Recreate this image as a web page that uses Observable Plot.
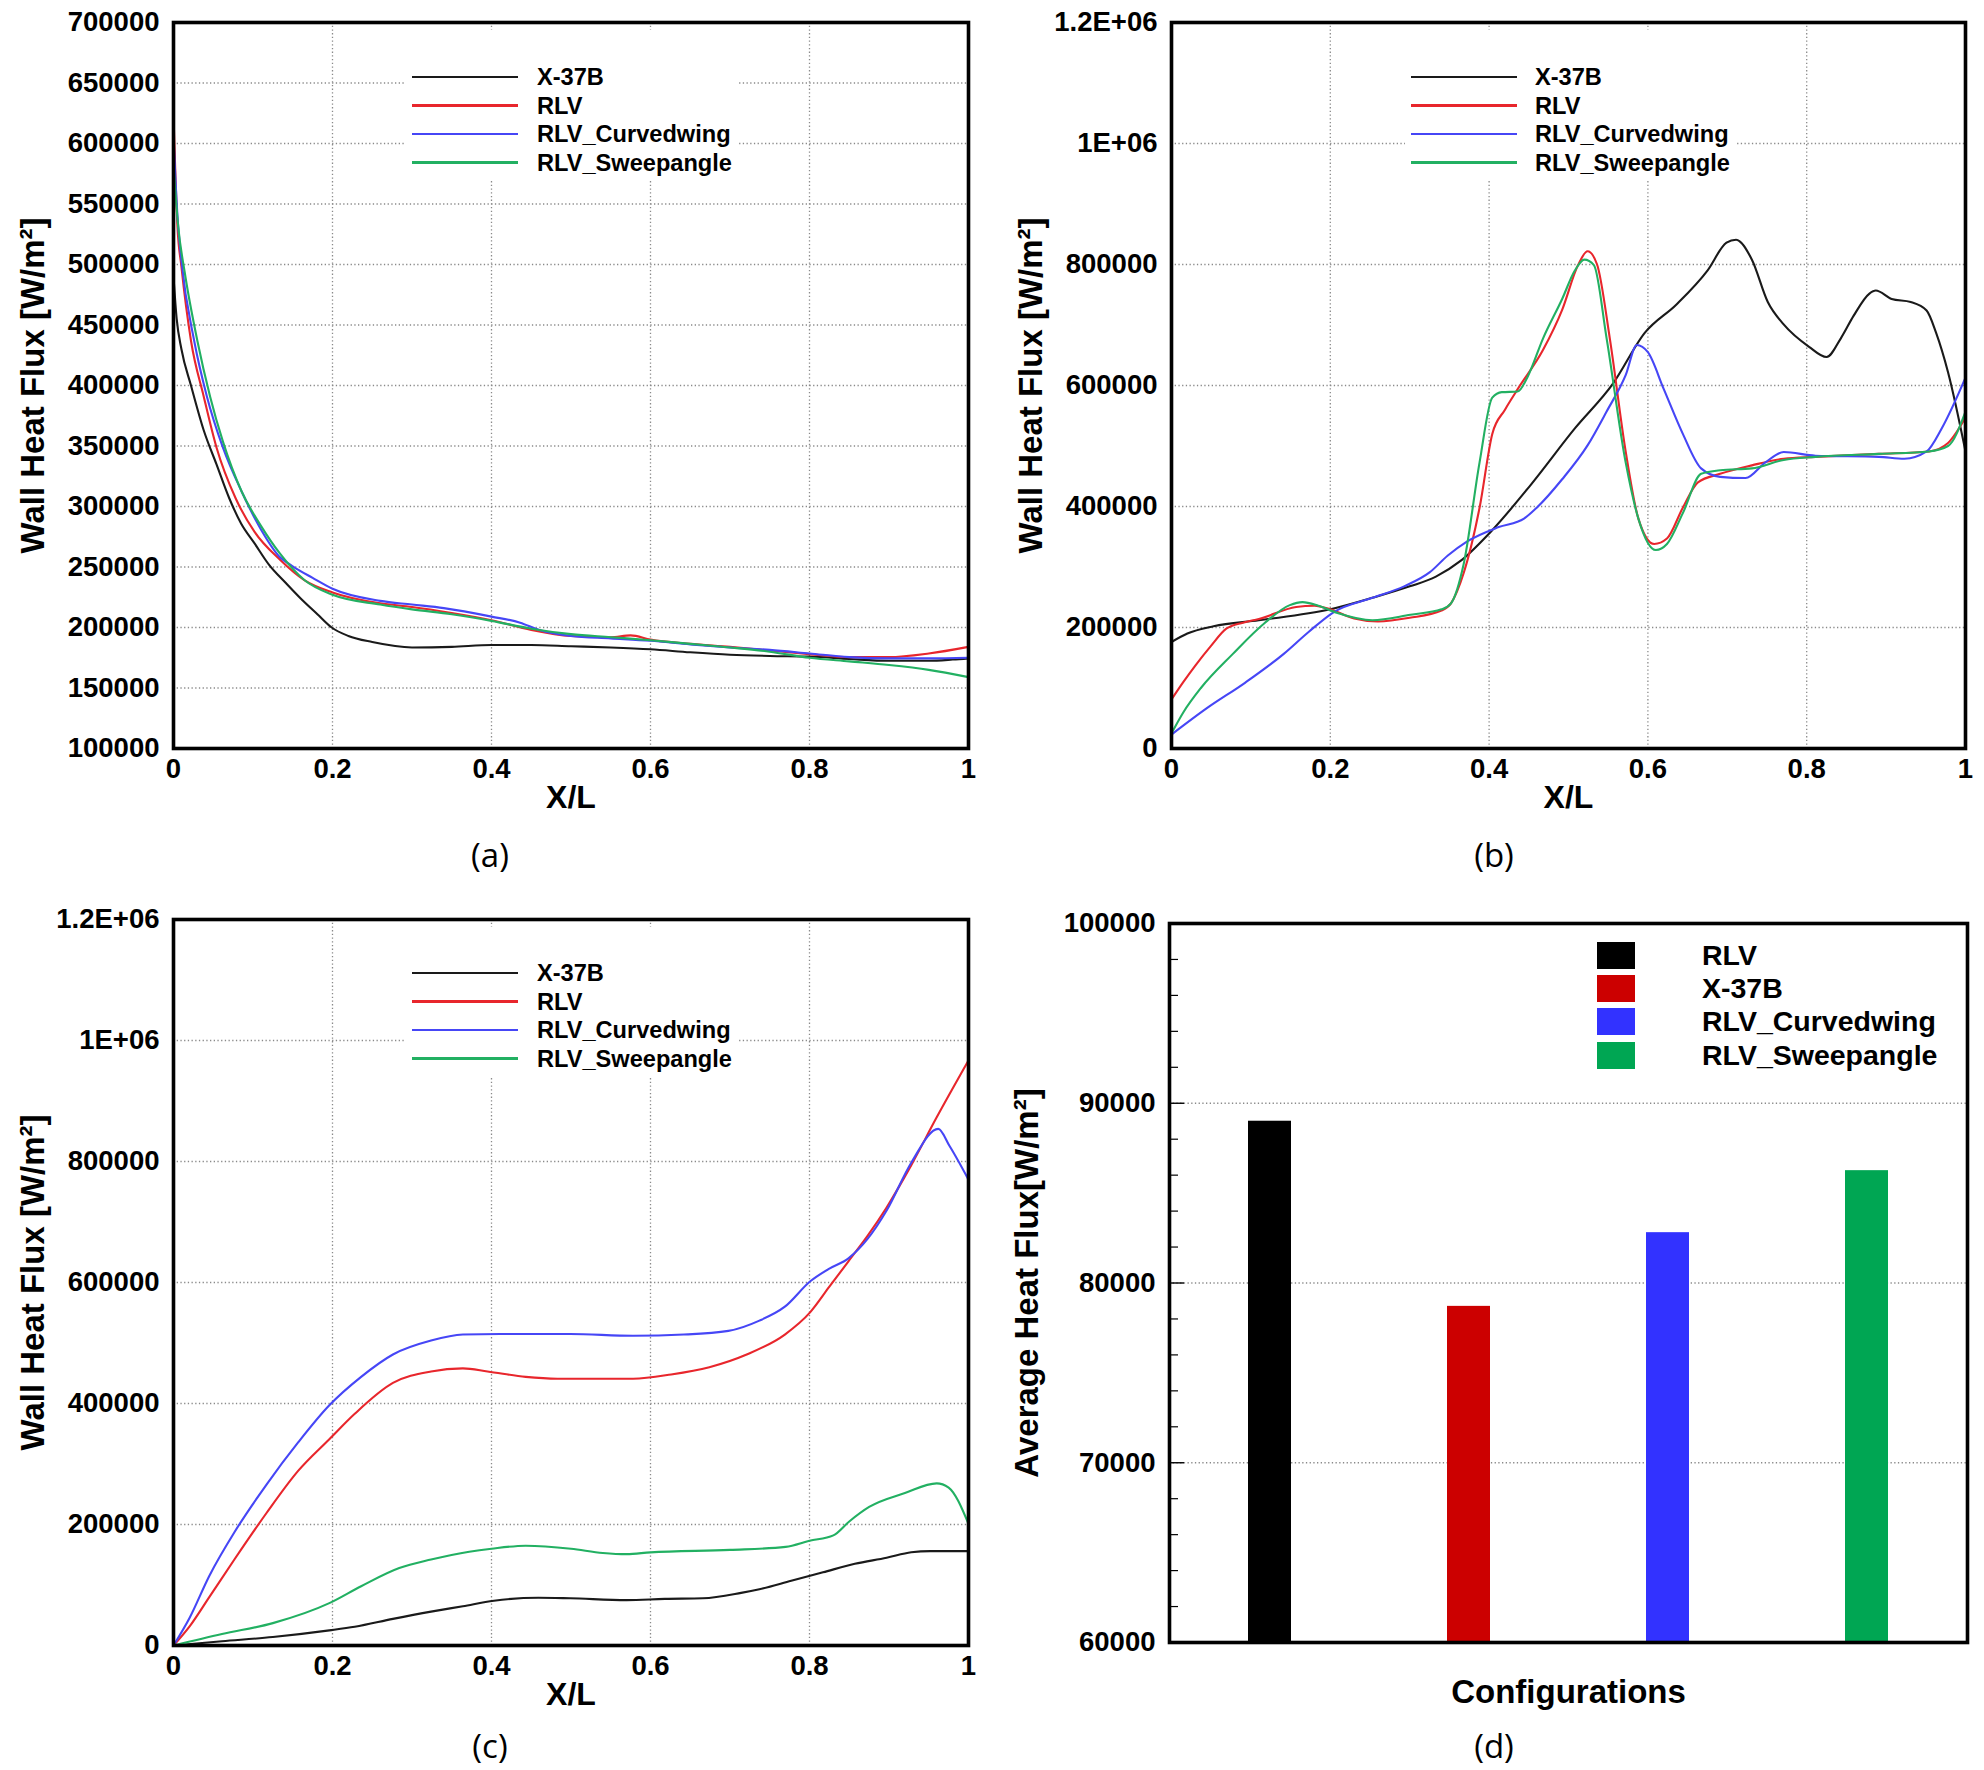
<!DOCTYPE html>
<html>
<head>
<meta charset="utf-8">
<script src="https://cdn.jsdelivr.net/npm/d3@7"></script>
<script src="https://cdn.jsdelivr.net/npm/@observablehq/plot@0.6"></script>
<style>
  html, body { margin: 0; padding: 0; background: #fff; }
  #page { position: relative; width: 1984px; height: 1770px; overflow: hidden; background: #fff;
          font-family: "Liberation Sans", Arial, sans-serif; }
  .panel { position: absolute; width: 992px; height: 885px; }
  .panel svg { position: absolute; left: 0; top: 0; }
  .caption { position: absolute; font-family: "Open Sans", sans-serif; font-size: 33px; line-height: 40px;
             transform: translateX(-50%); white-space: nowrap; color: #000; }
  .legend { position: absolute; background: #fff; }
  .lrow { position: absolute; left: 0; height: 28px; display: flex; align-items: center;
          font-family: "Liberation Sans", Arial, sans-serif; font-weight: bold; color: #000; white-space: nowrap; }
</style>
</head>
<body>
<div id="page"></div>
<script>
// ---------------- DATA ----------------
// Line-series names and colours (panels a, b, c)
const lineNames  = ["X-37B", "RLV", "RLV_Curvedwing", "RLV_Sweepangle"];
const lineColors = ["#1a1a1a", "#e8262c", "#4646f6", "#22b062"];

// X/L axis ticks
const xTicks = [0, 0.2, 0.4, 0.6, 0.8, 1];

// Panel (a)
const aYTicks = [100000,150000,200000,250000,300000,350000,400000,450000,500000,550000,600000,650000,700000];
const a_x37b = [[0,490000],[0.004,455000],[0.01,430000],[0.022,400000],[0.038,363000],[0.054,335000],[0.07,307000],[0.085,286000],[0.102,269500],[0.12,252000],[0.141,237000],[0.16,224000],[0.181,211000],[0.199,200000],[0.22,193000],[0.25,188000],[0.3,183500],[0.35,184000],[0.4,185500],[0.45,185500],[0.5,184500],[0.55,183500],[0.6,182000],[0.65,179500],[0.7,177500],[0.75,176500],[0.8,176000],[0.85,174000],[0.9,172500],[0.95,172500],[0.98,173500],[1,174500]];
const a_rlv  = [[0,624000],[0.005,531000],[0.01,498000],[0.022,437000],[0.038,391000],[0.054,349000],[0.078,307000],[0.102,279000],[0.134,256000],[0.165,239000],[0.2,229000],[0.26,220000],[0.3,217000],[0.35,212000],[0.4,206000],[0.45,198000],[0.5,193000],[0.55,192000],[0.575,193500],[0.6,190000],[0.65,186500],[0.7,184000],[0.75,181000],[0.8,178000],[0.85,175500],[0.9,175500],[0.95,178500],[1,184000]];
const a_curv = [[0,606000],[0.005,540000],[0.01,503000],[0.026,437000],[0.042,391000],[0.062,349000],[0.086,312000],[0.11,281000],[0.134,258000],[0.149,251000],[0.175,241000],[0.2,232000],[0.26,222000],[0.3,219000],[0.34,216000],[0.4,209000],[0.436,204000],[0.46,198000],[0.5,193000],[0.55,191000],[0.6,189000],[0.65,186000],[0.7,183500],[0.75,181500],[0.8,178500],[0.85,175500],[0.9,174500],[0.95,174500],[1,175000]];
const a_swp  = [[0,582000],[0.006,531000],[0.014,494000],[0.03,437000],[0.046,391000],[0.062,354000],[0.086,312000],[0.11,284000],[0.134,261000],[0.165,239000],[0.2,227000],[0.26,219000],[0.3,215000],[0.35,211000],[0.4,205500],[0.45,199000],[0.5,194500],[0.55,192000],[0.6,189500],[0.65,186500],[0.7,183500],[0.75,180000],[0.8,175000],[0.85,172000],[0.9,169000],[0.95,165000],[1,159000]];

// Panels (b) and (c): shared y ticks
const bcYTicks = [0, 200000, 400000, 600000, 800000, 1000000, 1200000];
const bcYLabels = ["0", "200000", "400000", "600000", "800000", "1E+06", "1.2E+06"];

// Panel (b)
const b_x37b = [[0,176000],[0.02,190000],[0.053,202000],[0.11,212000],[0.2,230000],[0.253,249000],[0.3,268000],[0.333,284000],[0.364,310000],[0.404,361000],[0.452,435000],[0.508,529000],[0.556,603000],[0.596,687000],[0.636,734000],[0.675,790000],[0.699,836000],[0.711,841000],[0.731,808000],[0.751,738000],[0.771,701000],[0.803,664000],[0.825,647000],[0.843,678000],[0.859,715000],[0.879,752000],[0.887,757000],[0.907,743000],[0.931,738000],[0.951,724000],[0.963,687000],[0.978,622000],[1,491000]];
const b_rlv  = [[0,81000],[0.015,110000],[0.03,137000],[0.05,170000],[0.069,198000],[0.09,208000],[0.11,214000],[0.157,234000],[0.18,236000],[0.2,230000],[0.23,215000],[0.26,210000],[0.3,216000],[0.34,228000],[0.352,240000],[0.368,290000],[0.388,398000],[0.404,520000],[0.42,560000],[0.436,594000],[0.468,659000],[0.492,725000],[0.512,799000],[0.524,822000],[0.536,800000],[0.552,678000],[0.572,491000],[0.588,380000],[0.608,338000],[0.624,347000],[0.644,398000],[0.663,440000],[0.691,454000],[0.731,468000],[0.771,479000],[0.811,482000],[0.891,487000],[0.954,491000],[0.978,505000],[1,547000]];
const b_curv = [[0,23000],[0.045,67000],[0.093,109000],[0.141,156000],[0.173,193000],[0.205,226000],[0.253,249000],[0.293,268000],[0.325,291000],[0.348,319000],[0.372,342000],[0.412,366000],[0.444,380000],[0.46,398000],[0.492,445000],[0.524,501000],[0.548,557000],[0.572,617000],[0.586,667000],[0.6,655000],[0.62,594000],[0.644,520000],[0.667,463000],[0.691,449000],[0.723,447000],[0.748,473000],[0.771,490000],[0.811,484000],[0.891,482000],[0.923,479000],[0.951,491000],[0.97,529000],[1,613000]];
const b_swp  = [[0,25000],[0.015,60000],[0.037,100000],[0.077,156000],[0.117,207000],[0.149,237000],[0.165,242000],[0.185,236000],[0.209,224000],[0.253,212000],[0.301,221000],[0.34,230000],[0.352,240000],[0.368,305000],[0.388,473000],[0.404,580000],[0.416,589000],[0.436,590000],[0.448,613000],[0.468,678000],[0.492,743000],[0.508,790000],[0.52,808000],[0.532,799000],[0.548,678000],[0.572,473000],[0.588,380000],[0.61,328000],[0.624,338000],[0.644,389000],[0.667,454000],[0.691,460000],[0.731,463000],[0.771,477000],[0.811,482000],[0.891,487000],[0.954,491000],[0.978,500000],[1,557000]];

// Panel (c)
const c_x37b = [[0,0],[0.061,7000],[0.125,14000],[0.196,25000],[0.228,31000],[0.276,44000],[0.324,56000],[0.364,65000],[0.403,74000],[0.459,79000],[0.499,78000],[0.57,75000],[0.618,77000],[0.666,78000],[0.714,87000],[0.737,93000],[0.777,107000],[0.817,121000],[0.857,135000],[0.897,145000],[0.928,154000],[0.952,156000],[1,156000]];
const c_rlv  = [[0,0],[0.021,33000],[0.045,80000],[0.077,143000],[0.117,219000],[0.157,289000],[0.196,341000],[0.228,383000],[0.276,434000],[0.324,453000],[0.364,458000],[0.395,453000],[0.443,444000],[0.483,441000],[0.578,441000],[0.626,448000],[0.674,460000],[0.721,481000],[0.769,514000],[0.801,551000],[0.825,593000],[0.849,635000],[0.873,677000],[0.897,724000],[0.928,794000],[0.96,873000],[1,967000]];
const c_curv = [[0,0],[0.02,45000],[0.045,115000],[0.077,188000],[0.117,266000],[0.157,336000],[0.196,397000],[0.236,444000],[0.276,481000],[0.324,504000],[0.364,514000],[0.411,515000],[0.499,515000],[0.578,512000],[0.642,514000],[0.698,520000],[0.737,537000],[0.769,560000],[0.801,602000],[0.825,623000],[0.849,640000],[0.873,672000],[0.897,719000],[0.928,798000],[0.962,854000],[0.976,826000],[1,770000]];
const c_swp  = [[0,0],[0.061,19000],[0.125,37000],[0.196,70000],[0.236,98000],[0.284,128000],[0.324,142000],[0.372,155000],[0.4,160000],[0.443,165000],[0.5,160000],[0.54,153000],[0.57,151000],[0.6,154000],[0.7,158000],[0.77,163000],[0.8,173000],[0.83,182000],[0.85,205000],[0.875,229000],[0.92,252000],[0.96,268000],[0.975,261000],[1,201000]];

// Panel (d)
const dNames  = ["RLV", "X-37B", "RLV_Curvedwing", "RLV_Sweepangle"];
const dValues = [89000, 78700, 82800, 86250];
const dColors = ["#000000", "#cc0000", "#3232ff", "#00a653"];
const dYDomain = [60000, 100000];
const dYTicks = [60000, 70000, 80000, 90000, 100000];
const dMinorTicks = [62000,64000,66000,68000,72000,74000,76000,78000,82000,84000,86000,88000,92000,94000,96000,98000];

// ---------------- DRAWING ----------------
const FONT = "'Liberation Sans', Arial, sans-serif";
const page = document.getElementById("page");
const gridStyle = {stroke: "#8a8a8a", strokeOpacity: 1, strokeWidth: 1.3, strokeDasharray: "1.3,2.4"};

function tidy(seriesArrays) {
  return seriesArrays.flatMap((pts, i) => pts.map(([x, y]) => ({name: lineNames[i], x, y})));
}

function makePanel(left, top) {
  const div = document.createElement("div");
  div.className = "panel";
  div.style.left = left + "px";
  div.style.top = top + "px";
  page.appendChild(div);
  return div;
}

function addCaption(div, text, cx, cy) {
  const c = document.createElement("div");
  c.className = "caption";
  c.textContent = text;
  c.style.left = cx + "px";
  c.style.top = (cy - 20) + "px";
  div.appendChild(c);
}

function addLineLegend(div, box, swLeft, swWidth, textLeft, centers) {
  const lg = document.createElement("div");
  lg.className = "legend";
  Object.assign(lg.style, {left: box[0] + "px", top: box[1] + "px", width: box[2] + "px", height: box[3] + "px"});
  lineNames.forEach((n, i) => {
    const row = document.createElement("div");
    row.className = "lrow";
    row.style.top = (centers[i] - box[1] - 14) + "px";
    row.style.fontSize = "23.6px";
    const sw = document.createElement("div");
    Object.assign(sw.style, {position: "absolute", left: (swLeft - box[0]) + "px", width: swWidth + "px", height: "2.6px", background: lineColors[i], top: "12.7px"});
    const tx = document.createElement("div");
    Object.assign(tx.style, {position: "absolute", left: (textLeft - box[0]) + "px", top: "0px", lineHeight: "28px"});
    tx.textContent = n;
    row.appendChild(sw); row.appendChild(tx);
    lg.appendChild(row);
  });
  div.appendChild(lg);
}

function linePlot({series, yDomain, yTicks, yFormat, marginLeft, marginRight, ylabelDx}) {
  const data = tidy(series);
  return Plot.plot({
    width: 992, height: 835,
    marginTop: 22, marginBottom: 835 - 748, marginLeft, marginRight,
    style: `background:#fff;color:#000;font-family:${FONT};font-weight:bold;font-size:27px;overflow:visible;`,
    x: {domain: [0, 1], label: null},
    y: {domain: yDomain, label: null},
    color: {domain: lineNames, range: lineColors},
    marks: [
      Plot.gridX([0.2, 0.4, 0.6, 0.8], gridStyle),
      Plot.gridY(yTicks.slice(1, -1), gridStyle),
      Plot.line(data, {x: "x", y: "y", z: "name", stroke: "name", strokeWidth: 2.1, curve: "monotone-x"}),
      Plot.frame({stroke: "#000", strokeWidth: 3.6}),
      Plot.axisX(xTicks, {tickSize: 0, tickPadding: 10, tickFormat: d => String(d), label: null, fontSize: 27.5, fontWeight: "bold"}),
      Plot.axisY(yTicks, {tickSize: 0, tickPadding: 14, tickFormat: yFormat, label: null, fontSize: 27.5, fontWeight: "bold"}),
      Plot.text(["X/L"], {text: d => d, frameAnchor: "bottom", lineAnchor: "middle", dy: 49, fontSize: 32, fontWeight: "bold"}),
      Plot.text(["Wall Heat Flux [W/m²]"], {text: d => d, frameAnchor: "left", textAnchor: "middle", lineAnchor: "middle", dx: ylabelDx, rotate: -90, fontSize: 33, fontWeight: "bold"})
    ]
  });
}

const bcFormat = d => bcYLabels[bcYTicks.indexOf(d)];

// (a)
const pa = makePanel(0, 0);
pa.appendChild(linePlot({series: [a_x37b, a_rlv, a_curv, a_swp], yDomain: [100000, 700000], yTicks: aYTicks,
  yFormat: d3.format("d"), marginLeft: 173, marginRight: 24, ylabelDx: -140}));
addLineLegend(pa, [406, 30, 331, 151], 412, 106, 537, [77, 105.5, 134, 162.5]);
addCaption(pa, "(a)", 490, 855);

// (b)
const pb = makePanel(992, 0);
pb.appendChild(linePlot({series: [b_x37b, b_rlv, b_curv, b_swp], yDomain: [0, 1200000], yTicks: bcYTicks,
  yFormat: bcFormat, marginLeft: 179, marginRight: 19, ylabelDx: -140}));
addLineLegend(pb, [413, 30, 331, 151], 419, 106, 543, [77, 105.5, 134, 162.5]);
addCaption(pb, "(b)", 502, 855);

// (c)
const pc = makePanel(0, 897);
pc.appendChild(linePlot({series: [c_x37b, c_rlv, c_curv, c_swp], yDomain: [0, 1200000], yTicks: bcYTicks,
  yFormat: bcFormat, marginLeft: 173, marginRight: 24, ylabelDx: -140}));
addLineLegend(pc, [406, 30, 331, 151], 412, 106, 537, [76, 104.5, 133, 161.5]);
addCaption(pc, "(c)", 490, 849);

// (d)
const pd = makePanel(992, 897);
const dData = dNames.map((n, i) => ({name: n, value: dValues[i]}));
const dFrameW = 992 - 177 - 17;
pd.appendChild(Plot.plot({
  width: 992, height: 835,
  marginTop: 26, marginBottom: 835 - 745, marginLeft: 177, marginRight: 17,
  style: `background:#fff;color:#000;font-family:${FONT};font-weight:bold;font-size:27px;overflow:visible;`,
  x: {domain: dNames, paddingInner: 0.784, paddingOuter: 0.392, align: 0.5, axis: null},
  y: {domain: dYDomain, label: null},
  color: {domain: dNames, range: dColors},
  marks: [
    Plot.gridY(dYTicks.slice(1, -1), gridStyle),
    Plot.barY(dData, {x: "name", y1: dYDomain[0], y2: "value", fill: "name"}),
    Plot.tickY(dMinorTicks, {y: d => d, stroke: "#000", strokeWidth: 1.2, insetRight: dFrameW - 9}),
    Plot.tickY(dYTicks, {y: d => d, stroke: "#000", strokeWidth: 1.4, insetRight: dFrameW - 15}),
    Plot.frame({stroke: "#000", strokeWidth: 3.6}),
    Plot.axisY(dYTicks, {tickSize: 0, tickPadding: 14, tickFormat: d3.format("d"), label: null, fontSize: 27.5, fontWeight: "bold"}),
    Plot.text(["Configurations"], {text: d => d, frameAnchor: "bottom", lineAnchor: "middle", dy: 50, fontSize: 33, fontWeight: "bold"}),
    Plot.text(["Average Heat Flux[W/m²]"], {text: d => d, frameAnchor: "left", textAnchor: "middle", lineAnchor: "middle", dx: -142, rotate: -90, fontSize: 33, fontWeight: "bold"})
  ]
}));
// legend (d)
dNames.forEach((n, i) => {
  const cy = [58, 91, 124, 158][i];
  const sq = document.createElement("div");
  Object.assign(sq.style, {position: "absolute", left: "605px", top: (cy - 13.5) + "px", width: "38px", height: "27px", background: dColors[i]});
  pd.appendChild(sq);
  const tx = document.createElement("div");
  Object.assign(tx.style, {position: "absolute", left: "710px", top: (cy - 16) + "px", lineHeight: "32px", fontSize: "28.5px",
    fontWeight: "bold", fontFamily: FONT, whiteSpace: "nowrap", color: "#000"});
  tx.textContent = n;
  pd.appendChild(tx);
});
addCaption(pd, "(d)", 502, 849);
</script>
</body>
</html>
